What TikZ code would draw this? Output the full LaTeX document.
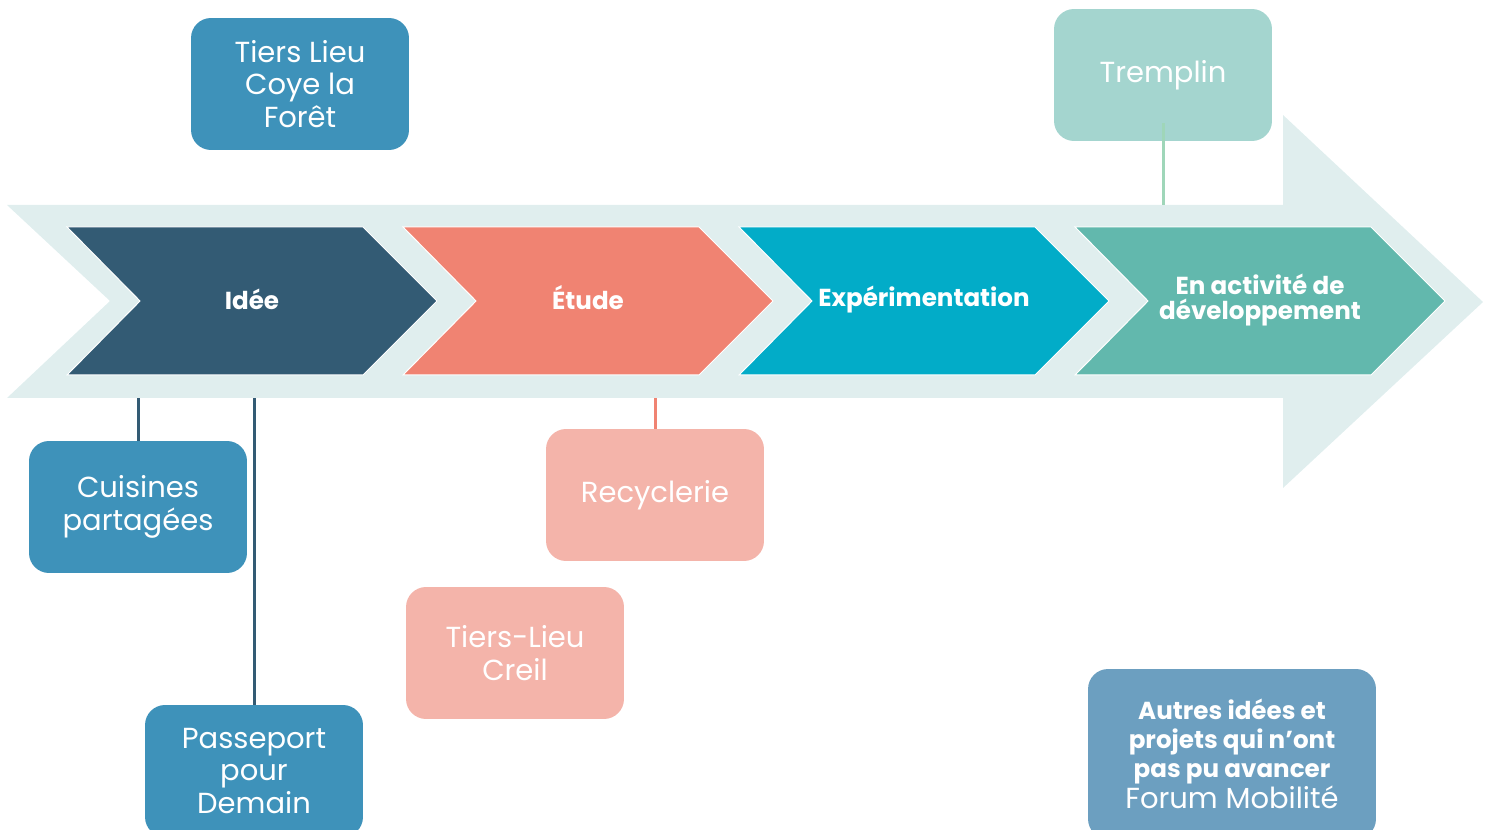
\documentclass[tikz,border=0pt]{standalone}
\usepackage{fontspec}
\setmainfont{Poppins}
\usetikzlibrary{positioning,calc}
\definecolor{bandc}{HTML}{E0EEEE}
\definecolor{ideec}{HTML}{335B74}
\definecolor{etudec}{HTML}{F08372}
\definecolor{expc}{HTML}{02ACC8}
\definecolor{devc}{HTML}{62B8AD}
\definecolor{bluebox}{HTML}{3E92BA}
\definecolor{pinkbox}{HTML}{F4B4AA}
\definecolor{tremc}{HTML}{A4D5CF}
\definecolor{tremline}{HTML}{9FD6B9}
\definecolor{autresc}{HTML}{6C9FC0}
\newcommand{\autb}[1]{{\bfseries\fontsize{14}{16.5}\selectfont #1}}
\begin{document}
\begin{tikzpicture}[x=0.02cm,y=-0.02cm,
  box/.style={rounded corners=0.4cm,minimum width=4.36cm,minimum height=2.64cm,
    align=center,text=white,font=\fontsize{16.5}{18.7}\selectfont,inner sep=0pt},
  stage/.style={text=white,align=center,font=\bfseries\fontsize{14}{14.7}\selectfont},
  link/.style={line width=0.06cm}]
\useasboundingbox (0,0) rectangle (1493,830);
\clip (0,0) rectangle (1493,830);
\fill [bandc] (7,205) -- (1283,205) -- (1283,115) -- (1483,302) -- (1283,488)
  -- (1283,398) -- (7,398) -- (110,301) -- cycle;
\coordinate (bandtop) at (0,205);
\coordinate (bandbot) at (0,398);
\foreach \x/\c in {67/ideec,403/etudec,739/expc,1075/devc}
  \filldraw [fill=\c,draw=white,line width=0.02cm] (\x,227) -- (\x+296,227) -- (\x+370,301)
    -- (\x+296,375) -- (\x,375) -- (\x+73,301) -- cycle;
\node [stage] (idee) at (252,299) {Idée};
\node [stage] (etude) at (588,298) {Étude};
\node [stage] (exp) at (924,300) {Expérimentation};
\node [stage] (dev) at (1260,300) {En activité de\\développement};
\node [box,fill=bluebox] (coye) at (300,84) {Tiers Lieu\\Coye la\\Forêt};
\node [box,fill=tremc] (tremplin) at (1163,75) {Tremplin};
\node [box,fill=bluebox] (cuisines) at (138,507) {Cuisines\\partagées};
\node [box,fill=bluebox] (passeport) at (254,771) {Passeport\\pour\\Demain};
\node [box,fill=pinkbox] (recyclerie) at (655,495) {Recyclerie};
\node [box,fill=pinkbox] (creil) at (515,653) {Tiers-Lieu\\Creil};
\node [box,fill=autresc,minimum width=5.76cm,minimum height=3.4cm,font=\fontsize{16.5}{16.5}\selectfont] (autres) at (1232,754) {\autb{Autres idées et}\\\autb{projets qui n’ont}\\\autb{pas pu avancer}\\Forum Mobilité};
\draw [link,ideec] (cuisines.north) -- (cuisines.north |- bandbot);
\draw [link,ideec] (passeport.north) -- (passeport.north |- bandbot);
\draw [link,etudec] (recyclerie.north) -- (recyclerie.north |- bandbot);
\coordinate (tremfoot) at ($(tremplin.south)+(0,-18)$);
\draw [link,tremline] (tremfoot) -- (tremfoot |- bandtop);
\end{tikzpicture}
\end{document}
